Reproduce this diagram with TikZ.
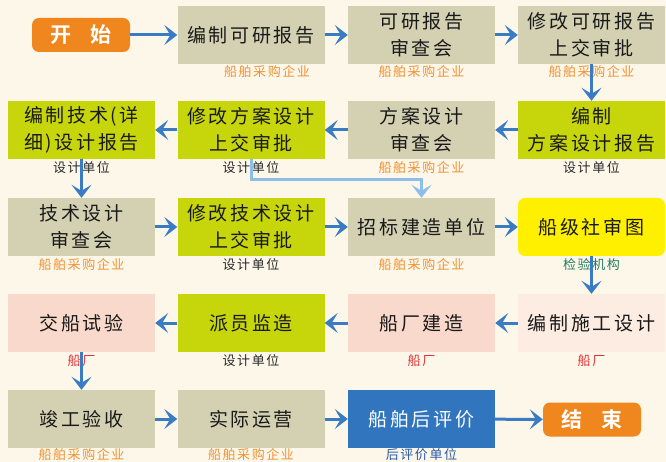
\documentclass[tikz,border=0pt]{standalone}
\usepackage{fontspec}
\newfontfamily\cjk{Noto Sans CJK SC}[LetterSpace=14]
\newfontfamily\cjklab{Noto Sans CJK SC}[LetterSpace=12]
\newfontfamily\cjkbold{Noto Sans CJK SC}[BoldFont={* Bold}]
\usetikzlibrary{arrows.meta}
\definecolor{bgc}{RGB}{253,247,234}
\definecolor{tanc}{RGB}{212,208,178}
\definecolor{limec}{RGB}{199,214,10}
\definecolor{pinkc}{RGB}{248,217,203}
\definecolor{lpinkc}{RGB}{252,236,226}
\definecolor{yellowc}{RGB}{255,240,0}
\definecolor{bluec}{RGB}{48,117,190}
\definecolor{orangec}{RGB}{240,135,30}
\definecolor{arrowc}{RGB}{58,124,196}
\definecolor{lightarrowc}{RGB}{140,190,235}
\definecolor{laborange}{RGB}{240,145,50}
\definecolor{labdark}{RGB}{40,40,40}
\definecolor{labred}{RGB}{225,50,55}
\definecolor{labgreen}{RGB}{35,125,95}
\definecolor{labblue}{RGB}{40,90,170}
\definecolor{txtc}{RGB}{25,25,25}
\tikzset{
  box/.style={minimum width=147pt, minimum height=58pt, inner sep=0pt, align=center,
    font=\cjk\fontsize{19pt}{27pt}\selectfont, text=txtc},
  tanbox/.style={box, fill=tanc},
  limebox/.style={box, fill=limec},
  pinkbox/.style={box, fill=pinkc},
  lpinkbox/.style={box, fill=lpinkc},
  yellowbox/.style={box, fill=yellowc, rounded corners=7pt},
  bluebox/.style={box, fill=bluec, text=white},
  termbox/.style={minimum width=98pt, minimum height=34pt, inner sep=0pt, fill=orangec,
    rounded corners=7pt, text=white, font=\cjkbold\bfseries\fontsize{21pt}{24pt}\selectfont},
  lab/.style={inner sep=0pt, font=\cjklab\fontsize{13pt}{15pt}\selectfont},
  flow/.style={line width=3pt, draw=arrowc, -{Stealth[length=13pt,width=20pt,inset=6pt]}},
  lflow/.style={line width=3pt, draw=lightarrowc, -{Stealth[length=13pt,width=20pt,inset=6pt]}},
}
\begin{document}
\begin{tikzpicture}[x=1pt,y=-1pt]
\fill[bgc] (0,0) rectangle (666,462);
\useasboundingbox (0,0) rectangle (666,462);
% row 1
\node[termbox] (start) at (81,35) {开\hspace{0.9em}始};
\node[tanbox] (m12) at (251,35) {编制可研报告};
\node[tanbox] (m13) at (421.5,35) {可研报告\\审查会};
\node[tanbox] (m14) at (591.5,35) {修改可研报告\\上交审批};
% row 2
\node[limebox] (m21) at (81.5,130) {编制技术(详\\细)设计报告};
\node[limebox] (m22) at (251,130) {修改方案设计\\上交审批};
\node[tanbox] (m23) at (421.5,130) {方案设计\\审查会};
\node[limebox] (m24) at (591.5,130) {编制\\方案设计报告};
% row 3
\node[tanbox] (m31) at (81.5,227) {技术设计\\审查会};
\node[limebox] (m32) at (251,227) {修改技术设计\\上交审批};
\node[tanbox] (m33) at (421.5,227) {招标建造单位};
\node[yellowbox] (m34) at (591.5,227) {船级社审图};
% row 4
\node[pinkbox] (m41) at (81.5,323) {交船试验};
\node[limebox] (m42) at (251,323) {派员监造};
\node[pinkbox] (m43) at (421.5,323) {船厂建造};
\node[lpinkbox] (m44) at (591.5,323) {编制施工设计};
% row 5
\node[tanbox] (m51) at (81.5,419) {竣工验收};
\node[tanbox] (m52) at (251,419) {实际运营};
\node[bluebox] (m53) at (421.5,419) {船舶后评价};
\node[termbox] (end) at (592,419.5) {结\hspace{0.9em}束};
% labels
\node[lab, text=laborange] (l12) at (267,72) {船舶采购企业};
\node[lab, text=laborange] (l13) at (421.5,72) {船舶采购企业};
\node[lab, text=laborange] (l14) at (591.5,72) {船舶采购企业};
\node[lab, text=labdark] (l21) at (81.5,167.5) {设计单位};
\node[lab, text=labdark] (l22) at (251,167.5) {设计单位};
\node[lab, text=laborange] (l23) at (421.5,167.5) {船舶采购企业};
\node[lab, text=labdark] (l24) at (591.5,167.5) {设计单位};
\node[lab, text=laborange] (l31) at (81.5,265) {船舶采购企业};
\node[lab, text=labdark] (l32) at (251,265) {设计单位};
\node[lab, text=laborange] (l33) at (421.5,265) {船舶采购企业};
\node[lab, text=labgreen] (l34) at (591.5,265) {检验机构};
\node[lab, text=labred] (l41) at (81.5,361) {船厂};
\node[lab, text=labdark] (l42) at (251,361) {设计单位};
\node[lab, text=labred] (l43) at (421.5,361) {船厂};
\node[lab, text=labred] (l44) at (591.5,361) {船厂};
\node[lab, text=laborange] (l51) at (81.5,455) {船舶采购企业};
\node[lab, text=laborange] (l52) at (251,455) {船舶采购企业};
\node[lab, text=labblue] (l53) at (421.5,455) {后评价单位};
% connectors
\draw[flow] (start) -- (m12);
\draw[flow] (m12) -- (m13);
\draw[flow] (m13) -- (m14);
\draw[flow] (m14) -- (m24);
\draw[flow] (m24) -- (m23);
\draw[flow] (m23) -- (m22);
\draw[flow] (m22) -- (m21);
\draw[flow] (m21) -- (m31);
\draw[lflow] (m22.south) -- ++(0,20) -| (m33.north);
\draw[flow] (m31) -- (m32);
\draw[flow] (m32) -- (m33);
\draw[flow] (m33) -- (m34);
\draw[flow] (m34) -- (m44);
\draw[flow] (m44) -- (m43);
\draw[flow] (m43) -- (m42);
\draw[flow] (m42) -- (m41);
\draw[flow] (m41) -- (m51);
\draw[flow] (m51) -- (m52);
\draw[flow] (m52) -- (m53);
\draw[flow] (m53) -- (end);
\end{tikzpicture}
\end{document}
